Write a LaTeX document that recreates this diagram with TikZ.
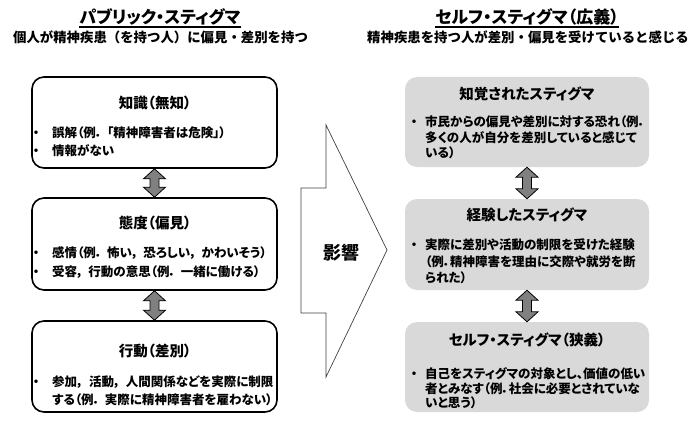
\documentclass[tikz,border=0pt]{standalone}
\usepackage{fontspec}
\setmainfont{Noto Sans CJK JP}[RawFeature=+palt]
\newfontfamily\jpfull{Noto Sans CJK JP}
\usetikzlibrary{calc}
\definecolor{boxgray}{HTML}{D9D9D9}
\definecolor{arrgray}{HTML}{808080}
\begin{document}
\begin{tikzpicture}[x=1pt,y=-1pt,
  lbox/.style={draw, line width=1.6pt, rounded corners=12pt, fill=white, inner sep=0},
  rbox/.style={fill=boxgray, rounded corners=12pt, inner sep=0},
  ttl/.style={font=\fontsize{14.5}{16}\selectfont\bfseries, inner sep=0},
  ln/.style={anchor=west, inner sep=0, text height=10pt, text depth=1pt, font=\fontsize{12.5}{14}\selectfont\bfseries},
  bul/.style={inner sep=0, text height=10pt, text depth=1pt, font=\fontsize{12.5}{14}\selectfont\bfseries},
  hd/.style={font=\fontsize{17}{19}\selectfont\bfseries, inner sep=0},
  sub/.style={font=\jpfull\fontsize{13.4}{15}\selectfont\bfseries, inner sep=0},
  dbl/.style={draw=black, line width=0.8pt, fill=arrgray, line join=miter},
  big/.style={draw=black!75, line width=0.7pt, fill=white}
]
\useasboundingbox (0,0) rectangle (700,422);

% headers
\node[hd] (h1) at (160,16.5) {パブリック・スティグマ};
\draw[line width=1.3pt] ([yshift=-2pt]h1.south west) -- ([yshift=-2pt]h1.south east);
\node[sub] (s1) at (160.5,37.5) {個人が精神疾患（を持つ人）に偏見・差別を持つ};
\node[hd] (h2) at (527,16.5) {セルフ・スティグマ（広義）};
\draw[line width=1.3pt] ([yshift=-2pt]h2.south west) -- ([yshift=-2pt]h2.south east);
\node[sub] (s2) at (528,37.5) {精神疾患を持つ人が差別・偏見を受けていると感じる};

% left boxes
\node[lbox, minimum width=245pt, minimum height=91pt] (k1) at (154.5,122.5) {};
\node[lbox, minimum width=245pt, minimum height=92pt] (k2) at (154.5,244) {};
\node[lbox, minimum width=245pt, minimum height=91pt] (k3) at (154.5,366.5) {};

\node[ttl] (k1t) at (155,102.5) {知識（無知）};
\node[bul] (k1b1) at (36,133.5) {・};
\node[ln] (k1l1) at (52,133.5) {誤解（例．\hspace{0.4em}「精神障害者は危険」）};
\node[bul] (k1b2) at (36,151.5) {・};
\node[ln] (k1l2) at (52,151.5) {情報がない};

\node[ttl] (k2t) at (155,223) {態度（偏見）};
\node[bul] (k2b1) at (36,253) {・};
\node[ln] (k2l1) at (52,253) {感情（例．\hspace{0.4em}怖い，\hspace{0.4em}恐ろしい，\hspace{0.4em}かわいそう）};
\node[bul] (k2b2) at (36,272) {・};
\node[ln] (k2l2) at (52,272) {受容，\hspace{0.4em}行動の意思（例．\hspace{0.4em}一緒に働ける）};

\node[ttl] (k3t) at (155,351) {行動（差別）};
\node[bul] (k3b1) at (36,382) {・};
\node[ln] (k3l1) at (52,382) {参加，\hspace{0.45em}活動，\hspace{0.45em}人間関係などを実際に制限};
\node[ln] (k3l2) at (52,400) {する（例．\hspace{0.4em}実際に精神障害者を雇わない）};

% right boxes
\node[rbox, minimum width=244pt, minimum height=90pt] (r1) at (527,122) {};
\node[rbox, minimum width=244pt, minimum height=91pt] (r2) at (527,244.5) {};
\node[rbox, minimum width=244pt, minimum height=90pt] (r3) at (527,367) {};

\node[ttl] (r1t) at (527,94) {知覚されたスティグマ};
\node[bul] (r1b1) at (414,122) {・};
\node[ln] (r1l1) at (425,122) {市民からの偏見や差別に対する恐れ（例．};
\node[ln] (r1l2) at (425,138) {多くの人が自分を差別していると感じて};
\node[ln] (r1l3) at (425,153) {いる）};

\node[ttl] (r2t) at (527,215) {経験したスティグマ};
\node[bul] (r2b1) at (414,245) {・};
\node[ln] (r2l1) at (425,245) {実際に差別や活動の制限を受けた経験};
\node[ln] (r2l2) at (425,262) {（例．精神障害を理由に交際や就労を断};
\node[ln] (r2l3) at (425,278) {られた）};

\node[ttl] (r3t) at (527,340) {セルフ・スティグマ（狭義）};
\node[bul] (r3b1) at (414,374) {・};
\node[ln] (r3l1) at (425,374) {自己をスティグマの対象とし、価値の低い};
\node[ln] (r3l2) at (425,389) {者とみなす（例．社会に必要とされていな};
\node[ln] (r3l3) at (425,403) {いと思う）};

% double arrows between boxes
\foreach \a/\b in {k1/k2, k2/k3, r1/r2, r2/r3} {
  \draw[dbl] let \p1=(\a.south), \p2=(\b.north) in
    (\x1,\y1) -- (\x1+11pt,\y1-10pt) -- (\x1+4.5pt,\y1-10pt) -- (\x1+4.5pt,\y2+10pt)
    -- (\x1+11pt,\y2+10pt) -- (\x1,\y2) -- (\x1-11pt,\y2+10pt) -- (\x1-4.5pt,\y2+10pt)
    -- (\x1-4.5pt,\y1-10pt) -- (\x1-11pt,\y1-10pt) -- cycle;
}

% big influence arrow
\draw[big] (301,188) -- (326,188) -- (326,125) -- (387,250) -- (326,377) -- (326,313) -- (301,313) -- cycle;
\node[font=\fontsize{18}{20}\selectfont\bfseries, inner sep=0] (inf) at (341,253) {影響};
\end{tikzpicture}
\end{document}
